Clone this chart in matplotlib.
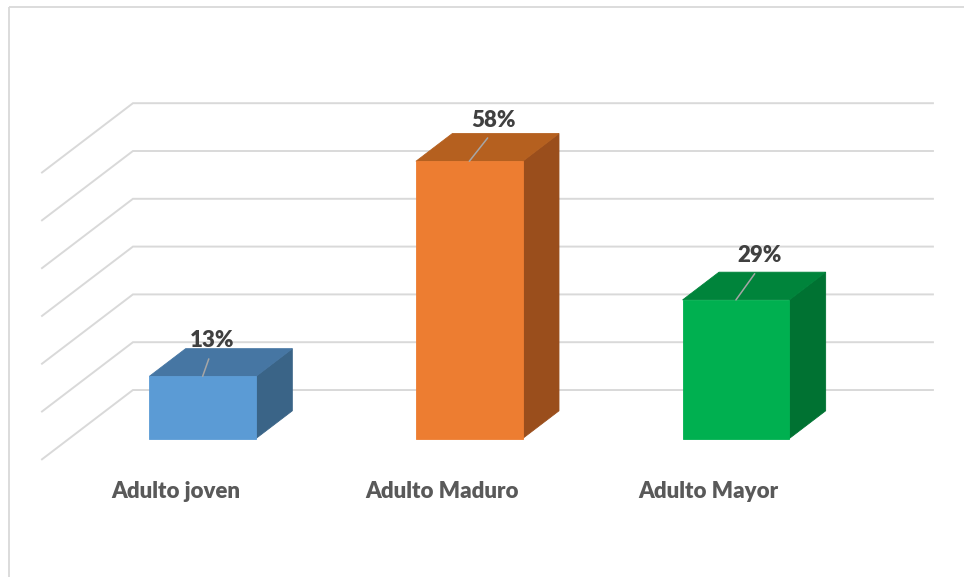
import matplotlib
matplotlib.use("Agg")
import matplotlib.pyplot as plt
from matplotlib.patches import Polygon

# ---- data ----
categories = ["Adulto joven", "Adulto Maduro", "Adulto Mayor"]
values = [13, 58, 29]                      # percent
value_labels = ["13%", "58%", "29%"]
grid_values = [0, 10, 20, 30, 40, 50, 60]

# ---- styling ----
front_colors = ["#5B9BD5", "#ED7D31", "#00B050"]
top_colors = ["#4676A3", "#B5601F", "#00843B"]
side_colors = ["#3A6487", "#9A4E1C", "#007232"]
grid_color = "#D9D9D9"
text_color = "#595959"
label_color = "#404040"
leader_color = "#A6A6A6"
font = ["Lato", "DejaVu Sans"]
weight = "heavy"

# oblique projection: depth d in [0, 1] shifts points right and up
DX = 0.341      # category units per full depth
DY = 14.5       # value units per full depth
BAR_W = 0.4
D_FRONT, D_BACK = 0.3, 0.7


def proj(x, v, d):
    return (x + d * DX, v + d * DY)


fig = plt.figure(figsize=(9.64, 5.77), dpi=100)
ax = fig.add_axes([0, 0, 1, 1])
ax.set_xlim(-0.6575, 2.9575)
ax.set_ylim(-24.62, 96.09)
ax.axis("off")

# chart frame (top and left edges)
ax.plot([0.0093, 1.0], [0.9879, 0.9879], transform=ax.transAxes,
        color=grid_color, lw=1.3, solid_capstyle="butt")
ax.plot([0.0093, 0.0093], [0.0, 0.9879], transform=ax.transAxes,
        color=grid_color, lw=1.3, solid_capstyle="butt")

# gridlines: side-wall diagonal then back wall
x_left, x_right = -0.5, len(categories) - 0.5
for g in grid_values:
    pts = [proj(x_left, g, 0), proj(x_left, g, 1), proj(x_right, g, 1)]
    ax.plot([p[0] for p in pts], [p[1] for p in pts],
            color=grid_color, lw=1.4, zorder=1, solid_joinstyle="miter")

# 3D columns
label_offsets = [(9, 36), (24, 41), (24, 44)]   # pixels from the front-top centre
for i, (v, fc, tc, sc) in enumerate(zip(values, front_colors, top_colors, side_colors)):
    x0, x1 = i - BAR_W / 2, i + BAR_W / 2
    front = [proj(x0, 0, D_FRONT), proj(x1, 0, D_FRONT),
             proj(x1, v, D_FRONT), proj(x0, v, D_FRONT)]
    top = [proj(x0, v, D_FRONT), proj(x1, v, D_FRONT),
           proj(x1, v, D_BACK), proj(x0, v, D_BACK)]
    side = [proj(x1, 0, D_FRONT), proj(x1, 0, D_BACK),
            proj(x1, v, D_BACK), proj(x1, v, D_FRONT)]
    for poly, col in ((side, sc), (top, tc), (front, fc)):
        ax.add_patch(Polygon(poly, closed=True, facecolor=col,
                             edgecolor=col, lw=0.6, zorder=3))

    # value label with leader line to the top edge
    anchor = proj(i, v, D_FRONT)
    ox, oy = label_offsets[i]
    ax.annotate(value_labels[i], xy=anchor, xytext=(ox, oy),
                textcoords="offset pixels", ha="center", va="center",
                fontsize=16, fontweight=weight, color=label_color,
                family=font, zorder=5,
                arrowprops=dict(arrowstyle="-", color=leader_color, lw=1.1,
                                shrinkA=4, shrinkB=0, relpos=(0.5, 0.0)))

# category labels below the floor
for i, name in enumerate(categories):
    ax.text(i, -6.7, name, ha="center", va="center", fontsize=16,
            fontweight=weight, color=text_color, family=font)

fig.savefig("out.png", dpi=100)
